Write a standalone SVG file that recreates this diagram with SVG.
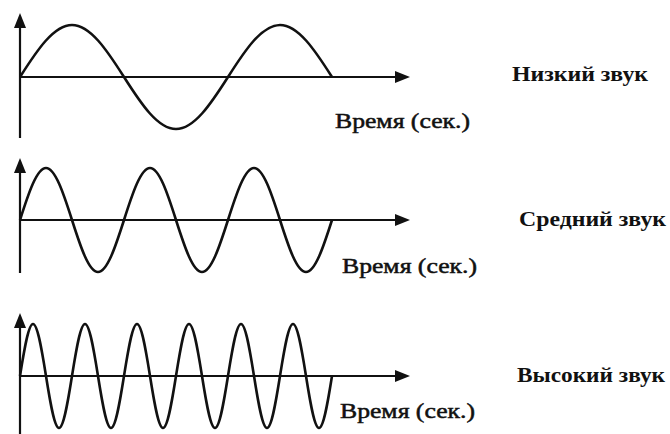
<svg xmlns="http://www.w3.org/2000/svg" width="670" height="434" viewBox="0 0 670 434">
<style>
.axis{stroke:#111;stroke-width:2.2;fill:none}
.wave{stroke:#111;stroke-width:2.6;fill:none;stroke-linejoin:round}
.head{fill:#111}
.time{font-family:"Liberation Serif",serif;font-size:21px;fill:#111;stroke:#111;stroke-width:0.5}
.name{font-family:"Liberation Serif",serif;font-size:21px;font-weight:bold;fill:#111}
</style>
<defs>
<path id="upHead" d="M0,0 L6,15 L-6,15 Z"/>
<path id="rightHead" d="M0,0 L-15,-6 L-15,6 Z"/>
</defs>
<rect width="670" height="434" fill="#fff"/>
<g id="panel-low">
<line class="axis" x1="20" y1="24" x2="20" y2="138"/>
<use href="#upHead" class="head" x="20" y="13"/>
<line class="axis" x1="20" y1="77" x2="398" y2="77"/>
<use href="#rightHead" class="head" x="410" y="77"/>
<path class="wave" d="M20,77 C36.96,50.36 53.72,25 72,25 S107.04,50.36 124,77 S157.72,129 176,129 S211.04,103.64 228,77 S261.72,25 280,25 S315.04,50.36 332,77"/>
<text class="time" x="335" y="128" textLength="135" lengthAdjust="spacingAndGlyphs">Время (сек.)</text>
<text class="name" x="512" y="81" textLength="136" lengthAdjust="spacingAndGlyphs">Низкий звук</text>
</g>
<g id="panel-mid">
<line class="axis" x1="20" y1="169" x2="20" y2="273"/>
<use href="#upHead" class="head" x="20" y="158"/>
<line class="axis" x1="20" y1="220" x2="398" y2="220"/>
<use href="#rightHead" class="head" x="410" y="220"/>
<path class="wave" d="M20,220 C28.48,193.36 36.86,168 46,168 S63.52,193.36 72,220 S88.86,272 98,272 S115.52,246.64 124,220 S140.86,168 150,168 S167.52,193.36 176,220 S192.86,272 202,272 S219.52,246.64 228,220 S244.86,168 254,168 S271.52,193.36 280,220 S296.86,272 306,272 S323.52,246.64 332,220"/>
<text class="time" x="342" y="273" textLength="135" lengthAdjust="spacingAndGlyphs">Время (сек.)</text>
<text class="name" x="519" y="226" textLength="147" lengthAdjust="spacingAndGlyphs">Средний звук</text>
</g>
<g id="panel-high">
<line class="axis" x1="20" y1="324" x2="20" y2="434"/>
<use href="#upHead" class="head" x="20" y="313"/>
<line class="axis" x1="20" y1="376" x2="398" y2="376"/>
<use href="#rightHead" class="head" x="410" y="376"/>
<path class="wave" d="M20,376 C24.24,349.36 28.43,324 33,324 S41.76,349.36 46,376 S54.43,428 59,428 S67.76,402.64 72,376 S80.43,324 85,324 S93.76,349.36 98,376 S106.43,428 111,428 S119.76,402.64 124,376 S132.43,324 137,324 S145.76,349.36 150,376 S158.43,428 163,428 S171.76,402.64 176,376 S184.43,324 189,324 S197.76,349.36 202,376 S210.43,428 215,428 S223.76,402.64 228,376 S236.43,324 241,324 S249.76,349.36 254,376 S262.43,428 267,428 S275.76,402.64 280,376 S288.43,324 293,324 S301.76,349.36 306,376 S314.43,428 319,428 S327.76,402.64 332,376"/>
<text class="time" x="340" y="418" textLength="135" lengthAdjust="spacingAndGlyphs">Время (сек.)</text>
<text class="name" x="517" y="382" textLength="148" lengthAdjust="spacingAndGlyphs">Высокий звук</text>
</g>
</svg>
